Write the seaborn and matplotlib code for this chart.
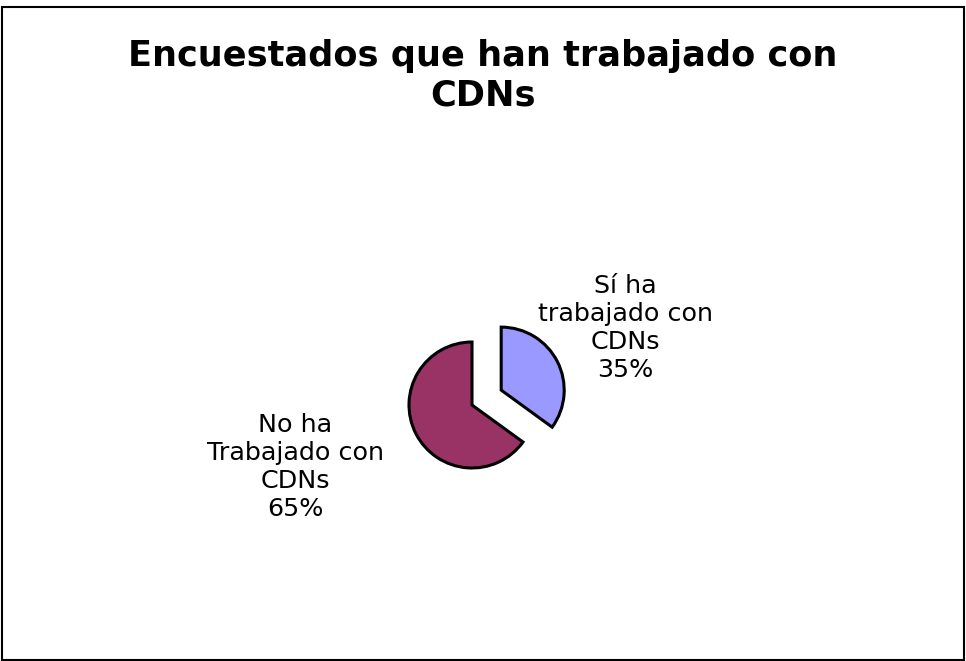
import matplotlib
matplotlib.use("Agg")
import matplotlib.pyplot as plt
import seaborn as sns
from matplotlib.patches import Rectangle

categories = ["Sí ha\ntrabajado con\nCDNs", "No ha\nTrabajado con\nCDNs"]
values = [35, 65]
colors = ["#9999FF", "#993366"]
title = "Encuestados que han trabajado con\nCDNs"

sns.set_theme(style="white")
plt.rcParams["font.family"] = ["DejaVu Sans"]

W, H = 966, 661
fig = plt.figure(figsize=(W / 100, H / 100), dpi=100)
ax = fig.add_axes([0, 0, 1, 1])

R = 63.0  # pixels per unit radius
cx, cy = 472, 405  # pie centre in pixels (from top)

wedges, _ = ax.pie(values, colors=colors, startangle=90, counterclock=False,
                   explode=[0.52, 0], radius=1,
                   wedgeprops=dict(edgecolor="black", linewidth=2.2))

ax.set_xlim(-cx / R, (W - cx) / R)
ax.set_ylim(-(H - cy) / R, cy / R)
ax.set_aspect("equal", adjustable="box")
ax.axis("off")

def px(x, y):
    return (x - cx) / R, (cy - y) / R

pct = [f"{v}%" for v in values]
pos = [(625, 328), (295, 467)]
for cat, p, (x, y) in zip(categories, pct, pos):
    tx, ty = px(x, y)
    ax.text(tx, ty, f"{cat}\n{p}", ha="center", va="center", fontsize=18.3,
            color="black", linespacing=1.22)

fig.text(483 / W, 1 - 76 / H, title, ha="center", va="center",
         fontsize=25.3, fontweight="bold", color="black", linespacing=1.2)

fig.patches.append(Rectangle((2 / W, 1 / H), 962 / W, 653 / H,
                             transform=fig.transFigure, fill=False,
                             edgecolor="black", linewidth=1.5))

fig.savefig("out.png", dpi=100, facecolor="white")
